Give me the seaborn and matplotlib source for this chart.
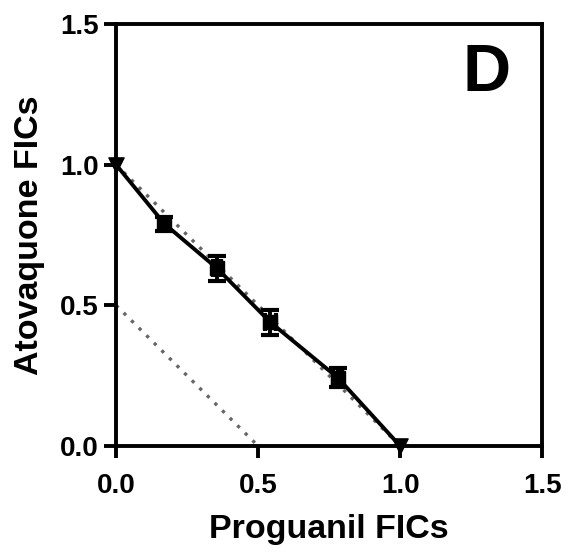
import matplotlib
matplotlib.use("Agg")
import matplotlib.pyplot as plt
import pandas as pd
import seaborn as sns

# isobologram values
proguanil_fic = [0.0, 0.17, 0.355, 0.543, 0.78, 1.0]
atovaquone_fic = [1.0, 0.79, 0.632, 0.44, 0.243, 0.0]
atovaquone_err = [0.0, 0.025, 0.045, 0.045, 0.035, 0.0]
proguanil_err = [0.0, 0.01, 0.015, 0.02, 0.015, 0.0]
additive_line = ([0.0, 1.0], [1.0, 0.0])
synergy_line = ([0.0, 0.5], [0.5, 0.0])
ticks = [0.0, 0.5, 1.0, 1.5]

sns.set_style("ticks")
plt.rcParams["font.family"] = ["Liberation Sans", "DejaVu Sans"]
plt.rcParams["font.weight"] = "bold"
plt.rcParams["text.color"] = "black"
plt.rcParams["axes.labelcolor"] = "black"
plt.rcParams["xtick.color"] = "black"
plt.rcParams["ytick.color"] = "black"
plt.rcParams["axes.edgecolor"] = "black"

fig = plt.figure(figsize=(5.69, 5.53), dpi=100)
ax = fig.add_axes([0.204, 0.1935, 0.749, 0.763])

ax.plot(*additive_line, ls=(0, (1, 2.2)), color="#666666", lw=2.4, zorder=1)
ax.plot(*synergy_line, ls=(0, (1, 2.2)), color="#666666", lw=2.4, zorder=1)

df = pd.DataFrame({"x": proguanil_fic, "y": atovaquone_fic})
sns.lineplot(data=df, x="x", y="y", color="black", lw=2.8, ax=ax, zorder=2)

mid = slice(1, 5)
ax.errorbar(proguanil_fic[mid], atovaquone_fic[mid], yerr=atovaquone_err[mid],
            xerr=proguanil_err[mid], fmt="s", color="black", ms=10, capsize=6.5,
            elinewidth=2.8, capthick=3, zorder=3)
ends = [0, 5]
ax.scatter([proguanil_fic[i] for i in ends], [atovaquone_fic[i] for i in ends],
           marker="v", s=120, color="black", zorder=4, clip_on=False)

ax.set_xlim(0, 1.5)
ax.set_ylim(0, 1.5)
ax.set_xticks(ticks)
ax.set_yticks(ticks)
ax.set_xticklabels([f"{t:.1f}" for t in ticks])
ax.set_yticklabels([f"{t:.1f}" for t in ticks])
ax.tick_params(width=2.8, length=8.5, labelsize=20, pad=4)
ax.tick_params(axis="x", pad=11)
for s in ax.spines.values():
    s.set_linewidth(2.8)

ax.set_xlabel("Proguanil FICs", fontsize=24.5, fontweight="bold", labelpad=11)
ax.set_ylabel("Atovaquone FICs", fontsize=24.5, fontweight="bold", labelpad=11)
ax.text(0.925, 0.955, "D", transform=ax.transAxes, ha="right", va="top",
        fontsize=48, fontweight="bold")

fig.savefig("out.png", dpi=100)
